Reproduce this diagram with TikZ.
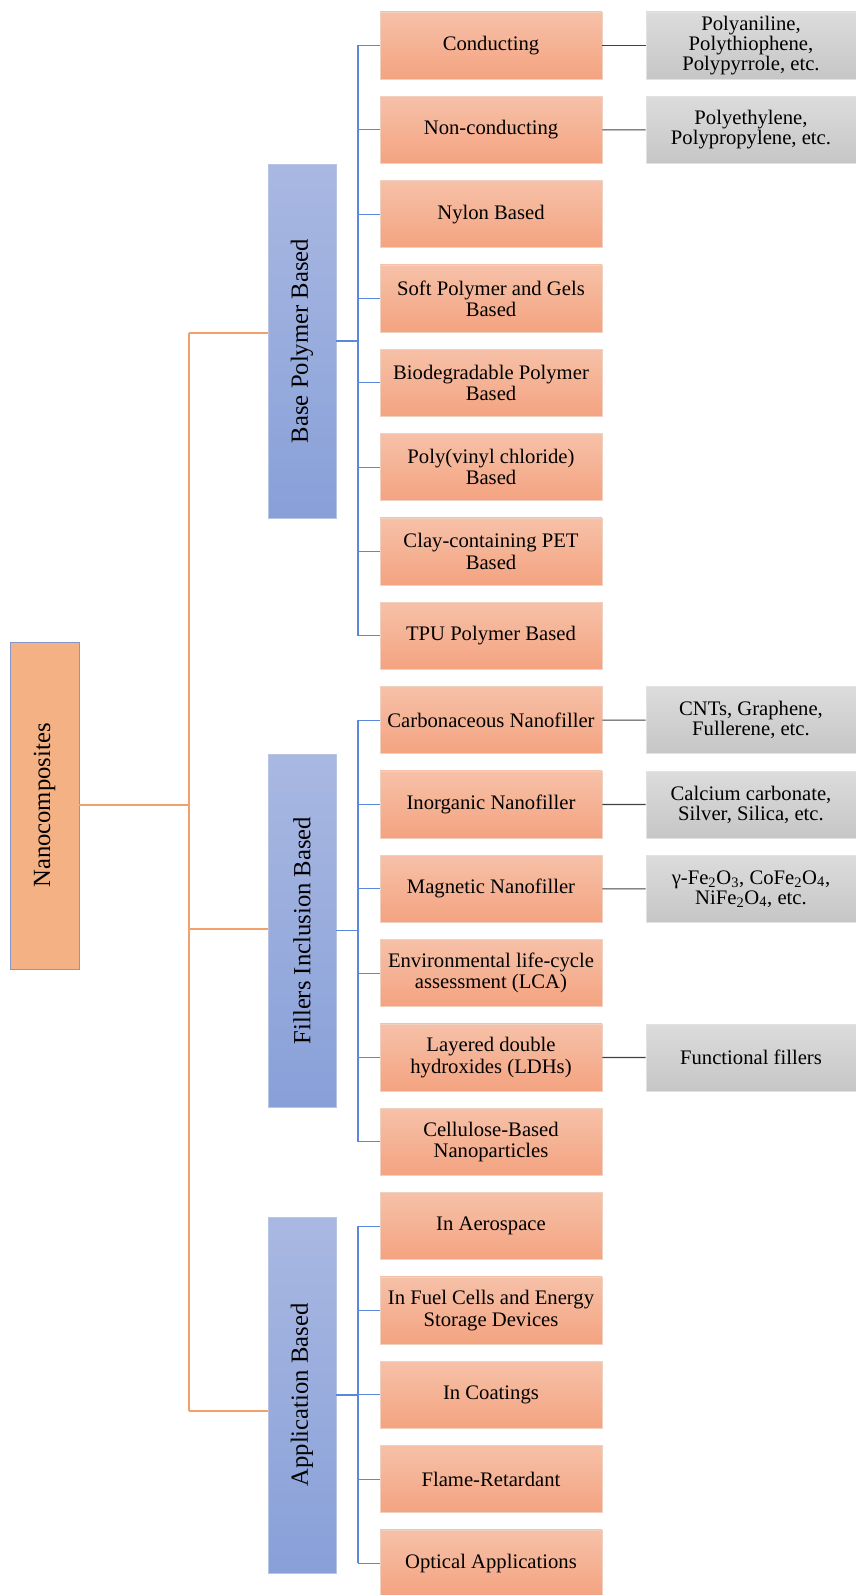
\documentclass[tikz,border=0pt]{standalone}
\usepackage{fontspec}
\setmainfont{Liberation Serif}
\usepackage{graphicx}
\definecolor{leafTop}{HTML}{F6C1A8}
\definecolor{leafBot}{HTML}{F4A380}
\definecolor{leafBorder}{HTML}{F0D0C0}
\definecolor{catTop}{HTML}{A9B8E2}
\definecolor{catBot}{HTML}{88A0D8}
\definecolor{catBorder}{HTML}{B8C4E4}
\definecolor{rootFill}{HTML}{F4B183}
\definecolor{rootBorder}{HTML}{8796C8}
\definecolor{grayTop}{HTML}{DCDCDC}
\definecolor{grayBot}{HTML}{C6C6C6}
\definecolor{grayBorder}{HTML}{E2E2E2}
\definecolor{orangeLine}{HTML}{F2A06C}
\definecolor{blueLine}{HTML}{5A88DC}
\definecolor{darkLine}{HTML}{404040}
\begin{document}
\begin{tikzpicture}[x=0.75pt,y=-0.75pt,
  leafbox/.style={draw=leafBorder,line width=0.5pt,top color=leafTop,bottom color=leafBot,
    minimum width=166.5pt,minimum height=50.25pt,inner sep=0pt,align=center,
    font=\fontsize{15.5}{16}\selectfont},
  graybox/.style={draw=grayBorder,line width=0.5pt,top color=grayTop,bottom color=grayBot,
    minimum width=157.5pt,minimum height=50.25pt,inner sep=0pt,align=center,
    font=\fontsize{15.5}{15}\selectfont},
  graybox3/.style={graybox,font=\fontsize{15.5}{13.8}\selectfont},
  catbox/.style={draw=catBorder,line width=0.5pt,top color=catTop,bottom color=catBot,
    minimum width=51pt,inner sep=0pt,font=\fontsize{18.5}{20}\selectfont},
  rootbox/.style={draw=rootBorder,line width=0.5pt,fill=rootFill,
    minimum width=51.75pt,minimum height=245.25pt,inner sep=0pt,font=\fontsize{18.5}{20}\selectfont},
  oline/.style={draw=orangeLine,line width=0.9pt},
  bline/.style={draw=blueLine,line width=0.8pt},
  kline/.style={draw=darkLine,line width=0.8pt}]
\useasboundingbox (0,0) rectangle (856,1595);

% root
\node[rootbox] (root) at (44.5,805.5) {\rotatebox{90}{Nanocomposites}};

% categories
\node[catbox,minimum height=265.5pt] (base) at (302,341) {\rotatebox{90}{Base Polymer Based}};
\node[catbox,minimum height=264.75pt] (fill) at (302,930.5) {\rotatebox{90}{Fillers Inclusion Based}};
\node[catbox,minimum height=267pt] (app) at (302,1395) {\rotatebox{90}{Application Based}};

% leaves
\foreach \i/\t in {0/{Conducting},1/{Non-conducting},2/{Nylon Based},
  3/{Soft Polymer and Gels\\Based},4/{Biodegradable Polymer\\Based},
  5/{Poly(vinyl chloride)\\Based},6/{Clay-containing PET\\Based},
  7/{TPU Polymer Based},8/{Carbonaceous Nanofiller},9/{Inorganic Nanofiller},
  10/{Magnetic Nanofiller},11/{Environmental life-cycle\\assessment (LCA)},
  12/{Layered double\\hydroxides (LDHs)},13/{Cellulose-Based\\Nanoparticles},
  14/{In Aerospace},15/{In Fuel Cells and Energy\\Storage Devices},
  16/{In Coatings},17/{Flame-Retardant},18/{Optical Applications}}{
  \pgfmathsetmacro\yy{45.5+84.33*\i}
  \node[leafbox] (l\i) at (491,\yy) {\t};
}

% gray detail boxes
\node[graybox3] (g0) at (751,45.5) {Polyaniline,\\Polythiophene,\\Polypyrrole, etc.};
\node[graybox] (g1) at (751,129.8) {Polyethylene,\\Polypropylene, etc.};
\node[graybox] (g8) at (751,720.1) {CNTs, Graphene,\\Fullerene, etc.};
\node[graybox] (g9) at (751,804.5) {Calcium carbonate,\\Silver, Silica, etc.};
\node[graybox] (g10) at (751,888.8) {γ-Fe\textsubscript{2}O\textsubscript{3}, CoFe\textsubscript{2}O\textsubscript{4},\\NiFe\textsubscript{2}O\textsubscript{4}, etc.};
\node[graybox] (g12) at (751,1057.5) {Functional fillers};

% orange bus
\coordinate (ob0) at (189,805);
\coordinate (ob1) at (189,333);
\coordinate (ob2) at (189,929);
\coordinate (ob3) at (189,1411);
\draw[oline] (root.east |- ob0) -- (ob0);
\draw[oline] (ob1) -- (ob3);
\draw[oline] (ob1) -- (ob1 -| base.west);
\draw[oline] (ob2) -- (ob2 -| fill.west);
\draw[oline] (ob3) -- (ob3 -| app.west);

% blue buses
\coordinate (bb) at (358,0);
\draw[bline] (base.east) -- (base.east -| bb);
\draw[bline] (fill.east) -- (fill.east -| bb);
\draw[bline] (app.east) -- (app.east -| bb);
\draw[bline] (l0.west -| bb) -- (l7.west -| bb);
\draw[bline] (l8.west -| bb) -- (l13.west -| bb);
\draw[bline] (l14.west -| bb) -- (l18.west -| bb);
\foreach \i in {0,...,18}{
  \draw[bline] (l\i.west -| bb) -- (l\i.west);
}

% dark connectors
\foreach \i in {0,1,8,9,10,12}{
  \draw[kline] (l\i.east) -- (g\i.west);
}
\end{tikzpicture}
\end{document}
